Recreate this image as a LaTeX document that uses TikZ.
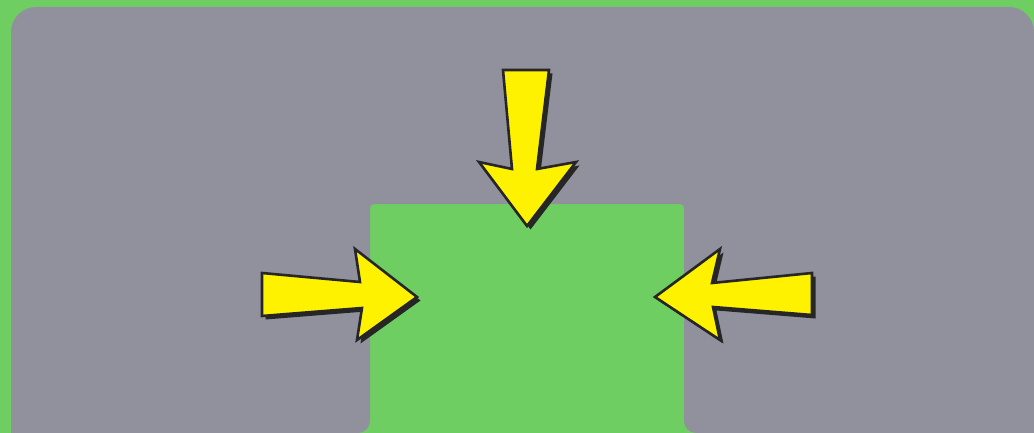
\documentclass[tikz,border=0pt]{standalone}
\usetikzlibrary{shadows}
\definecolor{lawngreen}{RGB}{111,206,98}
\definecolor{slategrey}{RGB}{145,144,157}
\definecolor{signyellow}{RGB}{255,242,0}
\begin{document}
\begin{tikzpicture}[
    x=1pt, y=-1pt,
    ground/.style={fill=slategrey},
    pusharrow/.style={fill=signyellow, draw=black!85, line width=2.6pt, line join=miter,
        drop shadow={shadow xshift=3.5pt, shadow yshift=-3.5pt, fill=black!85, opacity=1}}
]
% background
\fill[lawngreen] (0,0) rectangle (1034,433);
\useasboundingbox (0,0) rectangle (1034,433);

% grey ground with the notch
\fill[ground] (11,433) [rounded corners=25pt] -- (11,7) -- (1034,7)
    [rounded corners=0pt] -- (1034,433) [rounded corners=12pt] -- (684,433)
    [rounded corners=4pt] -- (684,204) -- (370,204)
    [rounded corners=12pt] -- (370,433) [rounded corners=0pt] -- cycle;

% arrow from above
\path[pusharrow] (503,70) -- (549,70) -- (537,169) -- (576,162) -- (527,226)
    -- (479,162) -- (512,169) -- cycle;

% arrow from the left
\path[pusharrow] (262,273) -- (360,282) -- (355,249) -- (417,297)
    -- (357,340) -- (362,308) -- (262,316) -- cycle;

% arrow from the right
\path[pusharrow] (812,273) -- (812,315) -- (713,307) -- (720,340)
    -- (655,297) -- (720,249) -- (712,283) -- cycle;
\end{tikzpicture}
\end{document}
